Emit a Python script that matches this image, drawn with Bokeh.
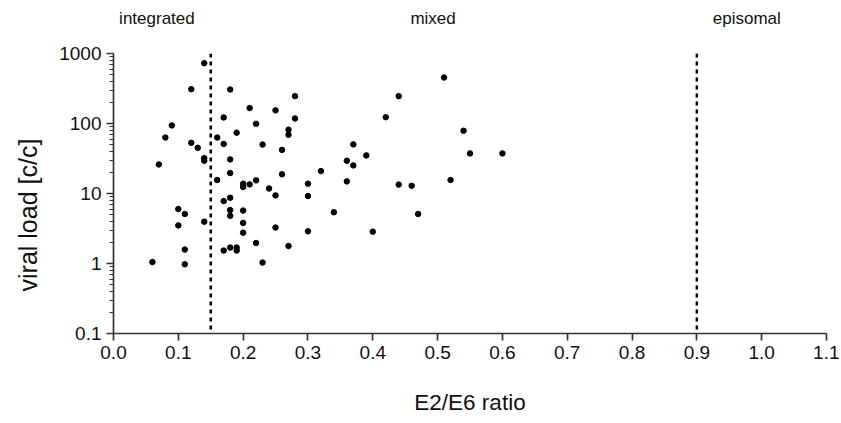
from bokeh.plotting import figure
from bokeh.models import (Range1d, FixedTicker, CustomJSTickFormatter, PrintfTickFormatter,
                          Span, ColumnDataSource, LinearAxis, Title)
from bokeh.embed import file_html
from bokeh.resources import INLINE

# ---- data ----
ratio = [0.14, 0.12, 0.18, 0.28, 0.21, 0.25, 0.17, 0.28, 0.09, 0.22,
         0.27, 0.27, 0.08, 0.19, 0.16, 0.12, 0.17, 0.13, 0.23, 0.26,
         0.14, 0.14, 0.18, 0.07, 0.32, 0.18, 0.26, 0.16, 0.20, 0.20,
         0.21, 0.22, 0.24, 0.30, 0.25, 0.30, 0.18, 0.17, 0.10, 0.11,
         0.18, 0.18, 0.20, 0.20, 0.20, 0.14, 0.10, 0.25, 0.30, 0.22,
         0.27, 0.11, 0.17, 0.18, 0.19, 0.19, 0.06, 0.11, 0.23,
         0.51, 0.44, 0.42, 0.54, 0.37, 0.39, 0.55, 0.60, 0.36, 0.37,
         0.36, 0.52, 0.44, 0.46, 0.34, 0.47, 0.40]
viral_load = [727, 309, 306, 246, 166, 154, 122, 118, 94, 99,
              81.5, 69, 63, 74, 63, 53, 51, 45, 50, 42,
              32, 29.4, 30.7, 26, 20.9, 19.6, 18.8, 15.6, 13.8, 12.4,
              13.5, 15.4, 11.8, 13.8, 9.4, 9.2, 8.7, 7.8, 6.0, 5.1,
              5.8, 4.8, 5.7, 3.8, 2.76, 3.96, 3.5, 3.26, 2.88, 1.96,
              1.78, 1.58, 1.53, 1.69, 1.69, 1.53, 1.05, 0.975, 1.03,
              454, 246, 123, 78.8, 50.3, 35, 37.4, 37.4, 29.4, 25.2,
              14.9, 15.6, 13.4, 12.9, 5.4, 5.1, 2.85]

thresholds = [0.15, 0.9]
region_names = ["integrated", "mixed", "episomal"]
region_label_x = [0.067, 0.493, 0.977]

x_ticks = [0.0, 0.1, 0.2, 0.3, 0.4, 0.5, 0.6, 0.7, 0.8, 0.9, 1.0, 1.1]
y_ticks = [0.1, 1, 10, 100, 1000]
y_minor = [m * d for d in [0.1, 1, 10, 100] for m in range(2, 10)]

FONT = "Liberation Sans"
AXIS_COLOR = "#333333"
TEXT_COLOR = "#111111"

p = figure(frame_width=713, frame_height=280,
           x_range=Range1d(0, 1.1), y_range=Range1d(0.1, 1000),
           y_axis_type="log", output_backend="svg", toolbar_location=None,
           min_border_left=113, min_border_right=13, min_border_top=53,
           min_border_bottom=88)
p.outline_line_color = None
p.grid.visible = False
p.background_fill_color = "white"
p.border_fill_color = "white"

xa = p.below[0]
ya = p.left[0]

src = ColumnDataSource(dict(x=ratio, y=viral_load))
p.scatter("x", "y", source=src, size=5.5, color="black")

for t in thresholds:
    p.add_layout(Span(location=t, dimension="height", line_color="black",
                      line_width=2.5, line_dash="4 4"))

# region names as an invisible axis above the frame
top = LinearAxis(ticker=FixedTicker(ticks=region_label_x),
                 major_label_overrides=dict(zip(region_label_x, region_names)))
top.axis_line_color = None
top.major_tick_line_color = None
top.minor_tick_line_color = None
top.major_tick_out = 0
top.major_tick_in = 0
top.major_label_standoff = 26
top.major_label_text_font = FONT
top.major_label_text_font_size = "17px"
top.major_label_text_color = TEXT_COLOR
p.add_layout(top, "above")

# x axis
xa.ticker = FixedTicker(ticks=x_ticks)
xa.formatter = PrintfTickFormatter(format="%.1f")
xa.axis_label = "E2/E6 ratio"
# y axis
ya.ticker = FixedTicker(ticks=y_ticks, minor_ticks=y_minor)
ya.formatter = CustomJSTickFormatter(code="return tick < 1 ? tick.toFixed(1) : tick.toFixed(0);")

for ax in (xa, ya):
    ax.axis_line_color = AXIS_COLOR
    ax.axis_line_width = 1.7
    ax.major_tick_line_color = AXIS_COLOR
    ax.major_tick_line_width = 1.7
    ax.major_tick_in = 0
    ax.major_tick_out = 7
    ax.minor_tick_line_color = AXIS_COLOR
    ax.minor_tick_line_width = 1.2
    ax.minor_tick_in = 0
    ax.minor_tick_out = 4
    ax.major_label_text_font = FONT
    ax.major_label_text_font_size = "19px"
    ax.major_label_text_color = TEXT_COLOR
    ax.major_label_standoff = 5
    ax.axis_label_text_font = FONT
    ax.axis_label_text_font_size = "22.5px"
    ax.axis_label_text_font_style = "normal"
    ax.axis_label_text_color = TEXT_COLOR
xa.minor_tick_out = 0
xa.axis_label_standoff = 28

ytitle = Title(text="viral load [c/c]", align="left", vertical_align="top", offset=42,
               text_font=FONT, text_font_size="25px", text_font_style="normal",
               text_color=TEXT_COLOR, standoff=25)
p.add_layout(ytitle, "left")

open("out.html", "w").write(file_html(p, INLINE))
